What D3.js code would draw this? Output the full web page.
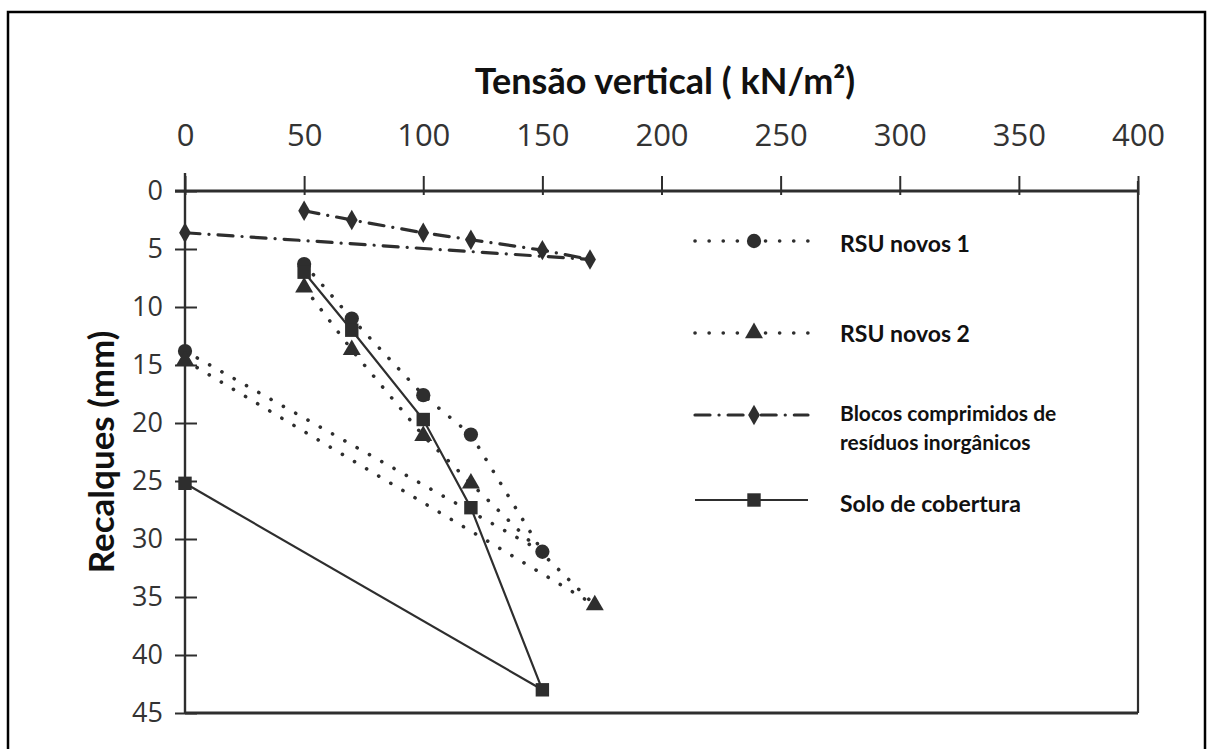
<!DOCTYPE html>
<html>
<head>
<meta charset="utf-8">
<script src="https://cdn.jsdelivr.net/npm/d3@7"></script>
<style>
  html, body { margin: 0; padding: 0; background: #ffffff; }
  svg { display: block; }
</style>
</head>
<body>
<svg id="chart" width="1207" height="749"></svg>
<script>
// Axis ticks
const xTickValues = [0, 50, 100, 150, 200, 250, 300, 350, 400];
const yTickValues = [0, 5, 10, 15, 20, 25, 30, 35, 40, 45];

// RSU novos 1 (circles, dotted)
const rsu1Stress = [50, 70, 100, 120, 150];
const rsu1Settle = [6.3, 11.0, 17.6, 21.0, 31.1];
const rsu1ReloadStress = [0, 150];
const rsu1ReloadSettle = [13.8, 31.1];

// RSU novos 2 (triangles, dotted)
const rsu2Stress = [50, 70, 100, 120, 172];
const rsu2Settle = [8.3, 13.7, 21.1, 25.2, 35.7];
const rsu2ReloadStress = [0, 172];
const rsu2ReloadSettle = [14.6, 35.7];

// Blocos comprimidos de resíduos inorgânicos (diamonds, dash-dot)
const blocosStress = [50, 70, 100, 120, 150, 170];
const blocosSettle = [1.7, 2.5, 3.6, 4.2, 5.1, 5.9];
const blocosReloadStress = [0, 170];
const blocosReloadSettle = [3.6, 5.9];

// Solo de cobertura (squares, solid)
const soloStress = [50, 70, 100, 120, 150];
const soloSettle = [7.0, 12.0, 19.7, 27.3, 43.0];
const soloReloadStress = [0, 150];
const soloReloadSettle = [25.2, 43.0];

const legendLabels = [
  ["RSU novos 1"],
  ["RSU novos 2"],
  ["Blocos comprimidos de", "resíduos inorgânicos"],
  ["Solo de cobertura"]
];

const svg = d3.select("#chart");
const ink = "#2e2e2e";

// outer frame
svg.append("rect")
  .attr("x", 8).attr("y", 12).attr("width", 1197).attr("height", 740)
  .attr("fill", "none").attr("stroke", "#000").attr("stroke-width", 2.5);

const x = d3.scaleLinear().domain([0, 400]).range([185, 1138]);
const y = d3.scaleLinear().domain([0, 45]).range([191, 713]);

// plot box: right edge, bottom edge
const g = svg.append("g");
g.append("line").attr("x1", x(400)).attr("x2", x(400)).attr("y1", y(0) - 10).attr("y2", y(45))
  .attr("stroke", ink).attr("stroke-width", 2.2);
g.append("line").attr("x1", x(0)).attr("x2", x(400)).attr("y1", y(45)).attr("y2", y(45))
  .attr("stroke", ink).attr("stroke-width", 2.8);

// top axis
const xAxis = g.append("g")
  .attr("transform", `translate(0,${y(0)})`)
  .call(d3.axisTop(x).tickValues(xTickValues).tickSize(15).tickPadding(30).tickFormat(d3.format("d")));
xAxis.select(".domain").attr("stroke", ink).attr("stroke-width", 2.8)
  .attr("d", `M${x(0) - 10},0H${x(400)}`);
xAxis.selectAll(".tick line").attr("stroke", ink).attr("stroke-width", 2).attr("y2", -15).attr("y1", 4);
xAxis.selectAll(".tick text")
  .attr("fill", "#333").style("font-family", "'Open Sans', sans-serif").style("font-size", "31px");

// left axis
const yAxis = g.append("g")
  .attr("transform", `translate(${x(0)},0)`)
  .call(d3.axisLeft(y).tickValues(yTickValues).tickSize(10).tickPadding(12).tickFormat(d3.format("d")));
yAxis.select(".domain").attr("stroke", ink).attr("stroke-width", 2.4)
  .attr("d", `M0,${y(0) - 18}V${y(45)}`);
yAxis.selectAll(".tick line").attr("stroke", ink).attr("stroke-width", 2).attr("x1", 12).attr("x2", -10);
yAxis.selectAll(".tick text")
  .attr("fill", "#333").style("font-family", "'Open Sans', sans-serif").style("font-size", "27px");

// line styles
const styles = {
  dotted: { dash: "0.1 14", width: 3.6, cap: "round" },
  dashdot: { dash: "15 9 0.1 9", width: 3.2, cap: "round" },
  solid: { dash: null, width: 2.2, cap: "butt" }
};

const line = d3.line().x(d => x(d[0])).y(d => y(d[1]));
const pairs = (xs, ys) => xs.map((v, i) => [v, ys[i]]);

function drawPath(pts, style) {
  const s = styles[style];
  g.append("path").datum(pts)
    .attr("d", line)
    .attr("fill", "none")
    .attr("stroke", ink)
    .attr("stroke-width", s.width)
    .attr("stroke-linecap", s.cap)
    .attr("stroke-dasharray", s.dash);
}

const symbols = {
  circle: d3.symbol(d3.symbolCircle, 160),
  triangle: d3.symbol(d3.symbolTriangle, 140),
  diamond: d3.symbol(d3.symbolDiamond, 120),
  square: d3.symbol(d3.symbolSquare, 180)
};

function drawMarkers(pts, shape) {
  g.selectAll(null).data(pts).enter().append("path")
    .attr("d", symbols[shape])
    .attr("transform", d => `translate(${x(d[0])},${y(d[1])})`)
    .attr("fill", ink);
}

const series = [
  { main: pairs(rsu1Stress, rsu1Settle), reload: pairs(rsu1ReloadStress, rsu1ReloadSettle), style: "dotted", shape: "circle" },
  { main: pairs(rsu2Stress, rsu2Settle), reload: pairs(rsu2ReloadStress, rsu2ReloadSettle), style: "dotted", shape: "triangle" },
  { main: pairs(blocosStress, blocosSettle), reload: pairs(blocosReloadStress, blocosReloadSettle), style: "dashdot", shape: "diamond" },
  { main: pairs(soloStress, soloSettle), reload: pairs(soloReloadStress, soloReloadSettle), style: "solid", shape: "square" }
];

series.forEach(s => {
  drawPath(s.main, s.style);
  drawPath(s.reload, s.style);
});
series.forEach(s => {
  drawMarkers(s.main, s.shape);
  drawMarkers([s.reload[0]], s.shape);
});

// legend
const legendRows = [241, 333, 415, 500];
const legendText = [[243], [333], [412, 441], [503]];
const legend = svg.append("g");
series.forEach((s, i) => {
  const ly = legendRows[i];
  const st = styles[s.style];
  legend.append("line")
    .attr("x1", 695).attr("x2", 808).attr("y1", ly).attr("y2", ly)
    .attr("stroke", ink).attr("stroke-width", st.width)
    .attr("stroke-linecap", st.cap).attr("stroke-dasharray", st.dash);
  legend.append("path")
    .attr("d", symbols[s.shape])
    .attr("transform", `translate(754,${ly})`)
    .attr("fill", ink);
  legendLabels[i].forEach((t, k) => {
    legend.append("text")
      .attr("x", 840).attr("y", legendText[i][k])
      .attr("dominant-baseline", "central")
      .style("font-family", "Lato, sans-serif").style("font-weight", 700)
      .style("font-size", legendLabels[i].length > 1 ? "21px" : "23px")
      .attr("fill", "#111")
      .text(t);
  });
});

// axis titles
svg.append("text")
  .attr("x", 665).attr("y", 80)
  .attr("text-anchor", "middle").attr("dominant-baseline", "central")
  .style("font-family", "Lato, sans-serif").style("font-weight", 700).style("font-size", "36px")
  .attr("fill", "#111")
  .text("Tensão vertical ( kN/m²)");

svg.append("text")
  .attr("transform", "translate(100,452) rotate(-90)")
  .attr("text-anchor", "middle").attr("dominant-baseline", "central")
  .style("font-family", "Lato, sans-serif").style("font-weight", 700).style("font-size", "35px")
  .attr("fill", "#111")
  .text("Recalques (mm)");
</script>
</body>
</html>
